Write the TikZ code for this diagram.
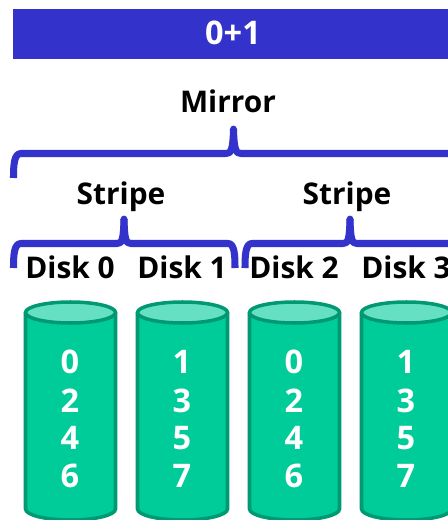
\documentclass[tikz,border=0pt]{standalone}
\usepackage{fontspec}
\setmainfont{Open Sans}
\definecolor{barblue}{HTML}{3333CC}
\definecolor{diskgreen}{HTML}{00CC99}
\definecolor{disktop}{HTML}{66E0C2}
\definecolor{diskedge}{HTML}{009973}
\tikzset{
  bracket/.style={draw=barblue, line width=4pt, line cap=butt, line join=round},
  label/.style={font=\fontsize{17}{19}\selectfont\bfseries, text=black, inner sep=0pt, anchor=base},
  digit/.style={label, font=\fontsize{18.5}{20}\selectfont\bfseries, text=white}
}
\begin{document}
\begin{tikzpicture}[x=0.02cm, y=-0.02cm]
  \useasboundingbox (0,0) rectangle (448,520);
  \clip (0,0) rectangle (448,520);

  % Title bar
  \fill[barblue] (13,9) rectangle (448,59);
  \node[digit] (title) at (233,45) {0+1};

  % Mirror bracket
  \node[label] (mirror) at (228,113) {Mirror};
  \draw[bracket] (13.5,178) .. controls (13.5,165) and (14,153.5) .. (21,153.5) -- (226,153.5)
    .. controls (231,153.5) and (233,150) .. (233.5,129);
  \draw[bracket] (233.5,129) .. controls (234,150) and (236,153.5) .. (241,153.5) -- (460,153.5);
  \fill[barblue] (233.5,129) circle (3.4);

  % Stripe brackets
  \node[label] (stripeA) at (121,204) {Stripe};
  \draw[bracket] (13.5,268) .. controls (13.5,255) and (14,243.5) .. (21,243.5) -- (117,243.5)
    .. controls (122,243.5) and (123.5,240) .. (124,219);
  \draw[bracket] (124,219) .. controls (124.5,240) and (126,243.5) .. (131,243.5) -- (228,243.5)
    .. controls (234.5,243.5) and (235,255) .. (235,268);
  \fill[barblue] (124,219) circle (3.4);

  \node[label] (stripeB) at (347,204) {Stripe};
  \draw[bracket] (245,268) .. controls (245,255) and (245.5,243.5) .. (252,243.5) -- (343,243.5)
    .. controls (348,243.5) and (349.5,240) .. (350,219);
  \draw[bracket] (350,219) .. controls (350.5,240) and (352,243.5) .. (357,243.5) -- (460,243.5);
  \fill[barblue] (350,219) circle (3.4);

  % Disks
  \foreach \x/\name/\a/\b/\c/\d in {70/0/0/2/4/6, 182/1/1/3/5/7, 294/2/0/2/4/6, 406/3/1/3/5/7}
  {
    \node[label] (disk\name) at (\x,278) {Disk \name};
    \draw[draw=diskedge, fill=diskgreen, line width=2pt]
      (\x-44.5,312.5) -- (\x-44.5,509) arc[start angle=180, end angle=0, x radius=45, y radius=11] -- (\x+45.5,312.5);
    \draw[draw=diskedge, fill=disktop, line width=2pt] (\x+0.5,312.5) ellipse [x radius=45, y radius=10.5];
    \node[digit] (a\name) at (\x,373) {\a};
    \node[digit] (b\name) at (\x,412) {\b};
    \node[digit] (c\name) at (\x,449) {\c};
    \node[digit] (d\name) at (\x,487) {\d};
  }
\end{tikzpicture}
\end{document}
